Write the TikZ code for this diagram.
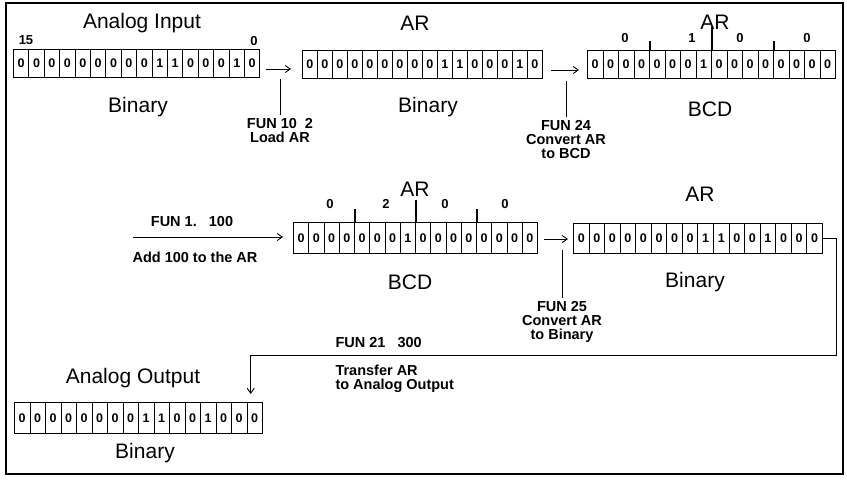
\documentclass[tikz,border=0pt]{standalone}
\usepackage{fontspec}
\setmainfont{Liberation Sans}
\usetikzlibrary{arrows.meta,positioning}

% one register: name, left x, cell width, top y, cell height, bits
\newcommand\bitrow[6]{%
  \foreach \b [count=\i] in {#6}
    \node[bit, minimum width=#3, minimum height=#5, anchor=north west]
      (#1\i) at ({#2+(\i-1)*#3}, #4) {\b};%
}

\begin{document}
\begin{tikzpicture}[x=1pt, y=-1pt,
    bit/.style={draw, line width=0.9pt, inner sep=0pt,
        font=\bfseries\fontsize{12.5}{12.5}\selectfont},
    title/.style={font=\fontsize{21}{23}\selectfont},
    note/.style={font=\bfseries\fontsize{14.5}{14}\selectfont, align=center},
    digit/.style={font=\bfseries\fontsize{13}{13}\selectfont},
    flow/.style={-{Straight Barb[length=5pt,width=7pt]}, line width=0.9pt},
    nib/.style={line width=1.2pt}]
  \useasboundingbox (0,0) rectangle (847,480);
  \draw[line width=1.4pt] (6,3) rectangle (843,474);

  % analog input
  \bitrow{in}{13}{15.4}{49}{28}{0,0,0,0,0,0,0,0,0,1,1,0,0,0,1,0}
  \node[title] (intitle) at (142,23) {Analog Input};
  \node[digit] (msb) at (26,40) {15};
  \node[digit] (lsb) at (254,41) {0};
  \node[title] (inbin) at (138,107) {Binary};

  % load AR
  \coordinate (l1a) at (266,69);
  \coordinate (l1b) at (291,69);
  \draw[flow] (l1a) -- (l1b);
  \node[note] (fun10) at (280,131) {FUN 10\ \ 2\\Load AR};
  \draw[line width=0.9pt] (fun10.north) -- ++(0,-36);

  % AR binary
  \bitrow{ara}{302}{15.0}{50}{28}{0,0,0,0,0,0,0,0,0,1,1,0,0,0,1,0}
  \node[title] (aratitle) at (415,23) {AR};
  \node[title] (arabin) at (428,107) {Binary};

  % convert to BCD
  \coordinate (l2a) at (551,70);
  \coordinate (l2b) at (579,70);
  \draw[flow] (l2a) -- (l2b);
  \node[note] (fun24) at (566,140) {FUN 24\\Convert AR\\to BCD};
  \draw[line width=0.9pt] (fun24.north) -- ++(0,-36);

  % AR BCD
  \bitrow{bcd}{587}{15.5}{50}{28}{0,0,0,0,0,0,0,1,0,0,0,0,0,0,0,0}
  \node[title] (bcdtitle) at (715,22) {AR};
  \draw[nib] (bcd4.north east) -- ++(0,-9);
  \draw[nib] (bcd8.north east) -- ++(0,-23);
  \draw[nib] (bcd12.north east) -- ++(0,-9);
  \node[digit] (bcdd1) at (625,38) {0};
  \node[digit] (bcdd2) at (692,38) {1};
  \node[digit] (bcdd3) at (740,38) {0};
  \node[digit] (bcdd4) at (807,38) {0};
  \node[title] (bcdlbl) at (710,109) {BCD};

  % add 100
  \coordinate (addin) at (133,237);
  \coordinate (addout) at (283,237);
  \draw[flow] (addin) -- (addout);
  \node[note] (fun1) at (192,222) {FUN 1.\ \ \ 100};
  \node[note] (addtxt) at (195,257) {Add 100 to the AR};

  % AR BCD after add
  \bitrow{sum}{293}{15.25}{222}{31}{0,0,0,0,0,0,0,1,0,0,0,0,0,0,0,0}
  \node[title] (sumtitle) at (415,189) {AR};
  \draw[nib] (sum4.north east) -- ++(0,-13);
  \draw[nib] (sum8.north east) -- ++(0,-22);
  \draw[nib] (sum12.north east) -- ++(0,-13);
  \node[digit] (sumd1) at (330,204) {0};
  \node[digit] (sumd2) at (386,204) {2};
  \node[digit] (sumd3) at (445,204) {0};
  \node[digit] (sumd4) at (505,204) {0};
  \node[title] (sumlbl) at (410,282) {BCD};

  % convert to binary
  \coordinate (l3a) at (544,239);
  \coordinate (l3b) at (568,239);
  \draw[flow] (l3a) -- (l3b);
  \node[note] (fun25) at (562,322) {FUN 25\\Convert AR\\to Binary};
  \draw[line width=0.9pt] (fun25.north) -- ++(0,-48);

  % AR binary after convert
  \bitrow{res}{573}{15.56}{223}{30}{0,0,0,0,0,0,0,0,1,1,0,0,1,0,0,0}
  \node[title] (restitle) at (700,194) {AR};
  \node[title] (resbin) at (695,282) {Binary};

  % analog output
  \bitrow{out}{14}{15.5}{402}{31}{0,0,0,0,0,0,0,0,1,1,0,0,1,0,0,0}
  \node[title] (outtitle) at (133,378) {Analog Output};
  \node[title] (outbin) at (145,453) {Binary};

  % transfer to output
  \coordinate (turn) at (836,355);
  \draw[flow] (res16.east) -| (turn) -| ([xshift=-4pt,yshift=8pt]out16.north);
  \node[note, anchor=west] (fun21) at (332,343) {FUN 21\ \ \ 300};
  \node[note, align=left, anchor=north west] (xfer) at (332,361)
    {Transfer AR\\to Analog Output};
\end{tikzpicture}
\end{document}
